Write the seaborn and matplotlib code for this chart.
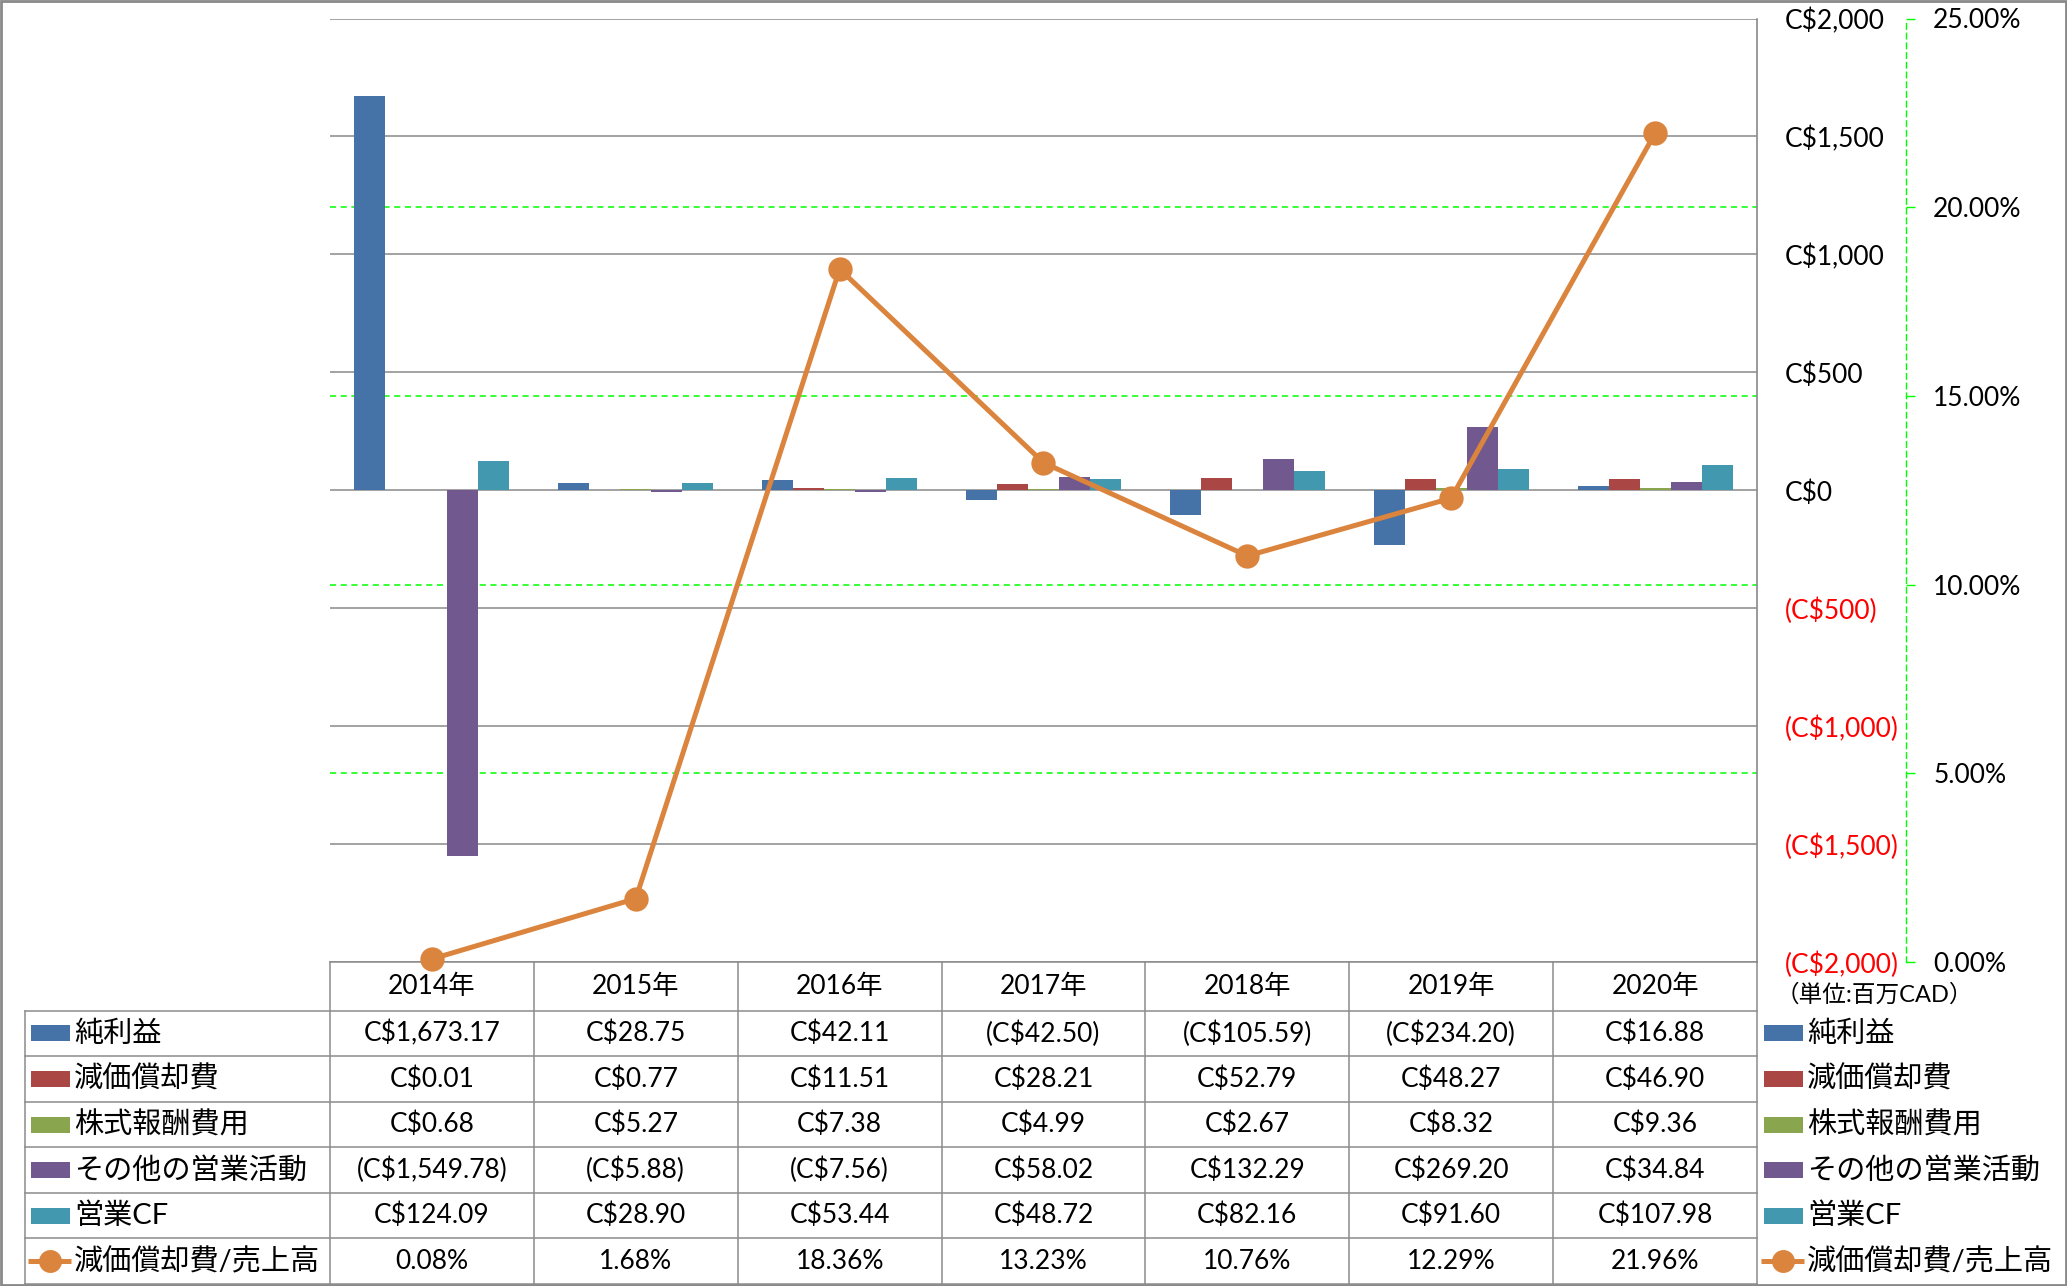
import numpy as np
import pandas as pd
import matplotlib
matplotlib.use("Agg")
import matplotlib.pyplot as plt
import matplotlib.transforms as mtransforms
from matplotlib.patches import Rectangle
from matplotlib.lines import Line2D
from matplotlib.ticker import FixedLocator, FuncFormatter
import seaborn as sns

plt.rcParams['font.family'] = ['Lato', 'Noto Sans CJK JP', 'DejaVu Sans']

# ---------------- data ----------------
years = ['2014年', '2015年', '2016年', '2017年', '2018年', '2019年', '2020年']
series_names = ['純利益', '減価償却費', '株式報酬費用', 'その他の営業活動', '営業CF']
net_income = [1673.17, 28.75, 42.11, -42.50, -105.59, -234.20, 16.88]
depreciation = [0.01, 0.77, 11.51, 28.21, 52.79, 48.27, 46.90]
stock_comp = [0.68, 5.27, 7.38, 4.99, 2.67, 8.32, 9.36]
other_ops = [-1549.78, -5.88, -7.56, 58.02, 132.29, 269.20, 34.84]
operating_cf = [124.09, 28.90, 53.44, 48.72, 82.16, 91.60, 107.98]
line_name = '減価償却費/売上高'
dep_ratio = [0.08, 1.68, 18.36, 13.23, 10.76, 12.29, 21.96]
unit_label = '（単位:百万CAD）'
primary_ticks = [-2000, -1500, -1000, -500, 0, 500, 1000, 1500, 2000]
secondary_ticks = [0, 5, 10, 15, 20, 25]

bar_colors = ['#4572A7', '#AA4643', '#89A54E', '#71588F', '#4198AF']
line_color = '#DB843D'
grid_gray = '#898989'
green = '#00FF00'

series_values = [net_income, depreciation, stock_comp, other_ops, operating_cf]
df = pd.DataFrame({
    'year': np.repeat([years], len(series_names), axis=0).ravel(),
    'series': np.repeat(series_names, len(years)),
    'value': np.concatenate(series_values),
})


def money(v, dec=2):
    s = f"C\\${abs(v):,.{dec}f}"
    return f"({s})" if v < 0 else s


# ---------------- layout ----------------
W, H = 2067, 1286
fig = plt.figure(figsize=(W / 100, H / 100), dpi=100)
fig.patch.set_facecolor('white')

# overlay axes for the data table (pixel coordinates)
axt = fig.add_axes([0, 0, 1, 1])
axt.set_xlim(0, W)
axt.set_ylim(H, 0)
axt.axis('off')

px_left, px_right, px_top, px_bottom = 330, 1757, 18.5, 962
ax = fig.add_axes([px_left / W, 1 - px_bottom / H,
                   (px_right - px_left) / W, (px_bottom - px_top) / H])
ax.patch.set_alpha(0)

sns.barplot(data=df, x='year', y='value', hue='series', order=years,
            hue_order=series_names, palette=bar_colors, width=0.76,
            saturation=1, errorbar=None, legend=False, ax=ax, zorder=3)
ax.set_ylim(-2000, 2000)
ax.set_xlabel('')
ax.set_ylabel('')

# secondary axis
ax2 = ax.twinx()
sns.pointplot(x=years, y=dep_ratio, ax=ax2, color=line_color, errorbar=None,
              markers='o', linestyles='-', markersize=16, linewidth=3.6,
              markeredgewidth=1.5)
ax2.set_ylim(0, 25)
ax2.set_xlabel('')
ax2.set_ylabel('')
for ln in ax2.lines:
    ln.set_clip_on(False)
    ln.set_zorder(5)
for s in ['top', 'left', 'bottom']:
    ax2.spines[s].set_visible(False)
ax2.spines['right'].set_position(('axes', (1906 - px_left) / (px_right - px_left)))
ax2.spines['right'].set_color(green)
ax2.spines['right'].set_linestyle((0, (4, 3)))
ax2.spines['right'].set_linewidth(1.0)
ax2.yaxis.set_major_locator(FixedLocator(secondary_ticks))
ax2.yaxis.set_major_formatter(FuncFormatter(lambda v, p: f"{v:.2f}%"))
ax2.tick_params(axis='y', direction='out', length=6.5, width=1.0, color=green,
                pad=13, labelsize=19, labelcolor='black')

# primary axis styling (after twinx, which moves ticks to the left)
for s in ['top', 'left', 'bottom']:
    ax.spines[s].set_visible(False)
ax.spines['right'].set_visible(True)
ax.spines['right'].set_color(grid_gray)
ax.spines['right'].set_linewidth(1.2)
ax.yaxis.set_ticks_position('right')
ax.yaxis.set_major_locator(FixedLocator(primary_ticks))
ax.yaxis.set_major_formatter(FuncFormatter(lambda v, p: money(v, 0)))
ax.tick_params(axis='y', which='both', length=0, pad=20, labelsize=19,
               left=False, labelleft=False, right=True, labelright=True)
ax.yaxis.grid(True, color=grid_gray, linewidth=1.1)
ax.set_axisbelow(True)

# secondary gridlines drawn behind the bars
blend = mtransforms.blended_transform_factory(ax.transAxes, ax2.transData)
for t in secondary_ticks[1:-1]:
    ax.add_line(Line2D([0, 1], [t, t], transform=blend, color=green,
                       linewidth=1.1, linestyle=(0, (4, 3)), zorder=1))

ax.set_xlim(-0.5, len(years) - 0.5)
ax.set_xticks([])
ax2.set_xticks([])

for lbl, v in zip(ax.get_yticklabels(which='major'), primary_ticks):
    lbl.set_color('red' if v < 0 else 'black')

# ---------------- table ----------------
tcol = '#8c8c8c'
col_w = (px_right - px_left) / len(years)
row_lines = [1010.7 + i * 45.55 for i in range(7)]
header_y = (px_bottom + row_lines[0]) / 2
lw_t = 1.1

axt.plot([px_left, px_right], [px_bottom, px_bottom], color=tcol, lw=lw_t)
for y in row_lines:
    axt.plot([25, px_right], [y, y], color=tcol, lw=lw_t)
for i in range(len(years) + 1):
    x = px_left + i * col_w
    axt.plot([x, x], [px_bottom, row_lines[-1]], color=tcol, lw=lw_t)
axt.plot([25, 25], [row_lines[0], row_lines[-1]], color=tcol, lw=lw_t)

for i, yr in enumerate(years):
    axt.text(px_left + (i + 0.5) * col_w, header_y, yr, ha='center',
             va='center', fontsize=19)

row_centers = [(row_lines[i] + row_lines[i + 1]) / 2 for i in range(6)]
for r, (name, vals, c) in enumerate(zip(series_names, series_values, bar_colors)):
    yc = row_centers[r]
    for i, v in enumerate(vals):
        axt.text(px_left + (i + 0.5) * col_w, yc, money(v), ha='center',
                 va='center', fontsize=19)
    for x0, xt in [(31, 74), (1764, 1807)]:
        axt.add_patch(Rectangle((x0, yc - 8), 39, 16, color=c, lw=0))
        axt.text(xt, yc, name, ha='left', va='center', fontsize=21)

yc = row_centers[5]
for i, v in enumerate(dep_ratio):
    axt.text(px_left + (i + 0.5) * col_w, yc, f"{v:.2f}%", ha='center',
             va='center', fontsize=19)
for x0, xt in [(28, 74), (1761, 1807)]:
    axt.plot([x0, x0 + 43], [yc, yc], color=line_color, lw=3.6,
             solid_capstyle='butt')
    axt.plot([x0 + 21.5], [yc], marker='o', color=line_color, markersize=15,
             markeredgewidth=1.5)
    axt.text(xt, yc, line_name, ha='left', va='center', fontsize=21)

axt.text(1776, 995, unit_label, ha='left', va='center', fontsize=17)

axt.add_patch(Rectangle((1, 1), W - 2.5, H - 2.5, fill=False, edgecolor=grid_gray,
                        lw=2))

fig.savefig('out.png', dpi=100, facecolor='white')
